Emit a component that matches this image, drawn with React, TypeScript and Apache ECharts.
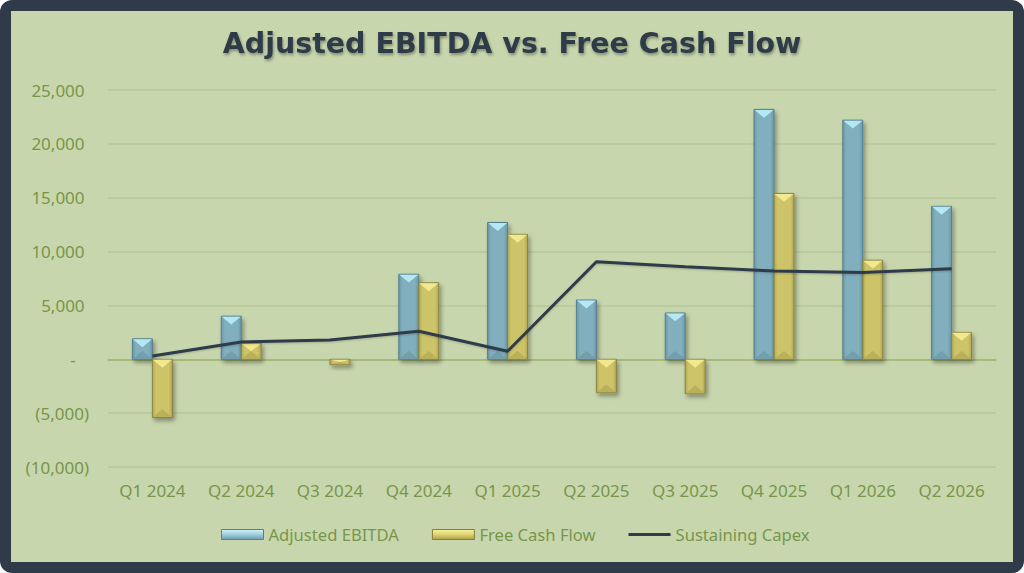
import React, { useEffect, useRef } from "react";
import * as echarts from "echarts";

const categories = ["Q1 2024", "Q2 2024", "Q3 2024", "Q4 2024", "Q1 2025", "Q2 2025", "Q3 2025", "Q4 2025", "Q1 2026", "Q2 2026"];
const ebitda = [1900, 4000, 0, 7900, 12700, 5500, 4300, 23200, 22200, 14200];
const freeCashFlow = [-5400, 1500, -500, 7100, 11600, -3100, -3200, 15400, 9200, 2500];
const sustainingCapex = [300, 1600, 1800, 2600, 750, 9050, 8600, 8200, 8050, 8400];

const GREEN_TEXT = "#77964a";
const DARK = "#2f3b48";

type Palette = { body: string; edge: string; facet: string; bottom: string; border: string };

const bluePal: Palette = { body: "#82afbd", edge: "#6b97a6", facet: "#b3e8f5", bottom: "#739fad", border: "#557f8d" };
const goldPal: Palette = { body: "#cdc46b", edge: "#b1a851", facet: "#f2e98e", bottom: "#b9b05a", border: "#8a8340" };

function makeRender(side: number, pal: Palette) {
  return (params: any, api: any) => {
    const idx = api.value(0);
    const v = api.value(1);
    if (!v) return null;
    const base = api.coord([idx, 0]);
    const tip = api.coord([idx, v]);
    const catW = api.size([1, 0])[0];
    const w = catW * 0.225;
    const x = side < 0 ? base[0] - w : base[0];
    const y1 = Math.min(base[1], tip[1]);
    const y2 = Math.max(base[1], tip[1]);
    const h = y2 - y1;
    const d = Math.min(w * 0.42, h / 2);
    return {
      type: "group",
      children: [
        {
          type: "rect",
          shape: { x, y: y1, width: w, height: h },
          style: {
            fill: new echarts.graphic.LinearGradient(0, 0, 1, 0, [
              { offset: 0, color: pal.edge },
              { offset: 0.18, color: pal.body },
              { offset: 0.82, color: pal.body },
              { offset: 1, color: pal.edge },
            ]),
            stroke: pal.border,
            lineWidth: 1,
            shadowBlur: 4,
            shadowColor: "rgba(0,0,0,0.35)",
            shadowOffsetX: 2,
            shadowOffsetY: 3,
          },
        },
        {
          type: "polygon",
          shape: { points: [[x + 0.5, y1 + 0.5], [x + w - 0.5, y1 + 0.5], [x + w / 2, y1 + d]] },
          style: { fill: pal.facet },
        },
        {
          type: "polygon",
          shape: { points: [[x + 0.5, y2 - 0.5], [x + w - 0.5, y2 - 0.5], [x + w / 2, y2 - d]] },
          style: { fill: pal.bottom },
        },
      ],
    };
  };
}

function fmt(v: number): string {
  if (v === 0) return "-   ";
  if (v < 0) return "(" + Math.abs(v).toLocaleString("en-US") + ")";
  return v.toLocaleString("en-US") + " ";
}

export default function App() {
  const ref = useRef<HTMLDivElement>(null);
  useEffect(() => {
    if (!ref.current) return;
    const chart = echarts.init(ref.current, null, { renderer: "svg" });
    chart.setOption({
      animation: false,
      backgroundColor: "transparent",
      title: {
        text: "Adjusted EBITDA vs. Free Cash Flow",
        left: "center",
        top: 26,
        padding: 0,
        textStyle: {
          fontFamily: "DejaVu Sans",
          fontWeight: "bold",
          fontSize: 28.5,
          lineHeight: 34,
          color: DARK,
          textShadowColor: "rgba(0,0,0,0.35)",
          textShadowBlur: 3,
          textShadowOffsetX: 1,
          textShadowOffsetY: 2,
        },
      },
      grid: { left: 108, right: 28, top: 90, bottom: 106, containLabel: false },
      legend: {
        left: 221,
        top: 526,
        padding: 0,
        itemWidth: 42,
        itemHeight: 10,
        itemGap: 33,
        textStyle: { color: GREEN_TEXT, fontFamily: "Noto Sans", fontSize: 16.6 },
        data: [
          {
            name: "Adjusted EBITDA",
            icon: "rect",
            itemStyle: {
              color: new echarts.graphic.LinearGradient(0, 0, 0, 1, [
                { offset: 0, color: "#d2f4fc" },
                { offset: 0.5, color: "#9fcfdd" },
                { offset: 1, color: "#6e9bab" },
              ]),
              borderColor: "#5a7f8d",
              borderWidth: 1,
            },
          },
          {
            name: "Free Cash Flow",
            icon: "rect",
            itemStyle: {
              color: new echarts.graphic.LinearGradient(0, 0, 0, 1, [
                { offset: 0, color: "#fbf29a" },
                { offset: 0.5, color: "#ddd372" },
                { offset: 1, color: "#aaa24c" },
              ]),
              borderColor: "#857e3c",
              borderWidth: 1,
            },
          },
          { name: "Sustaining Capex", icon: "path://M0,0H45V3H0Z", itemStyle: { color: DARK } },
        ],
      },
      xAxis: {
        type: "category",
        data: categories,
        axisLine: { show: true, onZero: true, lineStyle: { color: "#9db56c", width: 1.5 } },
        axisTick: { show: false },
        axisLabel: {
          color: GREEN_TEXT,
          fontFamily: "Noto Sans",
          fontSize: 17,
          margin: 15,
          interval: 0,
        },
        position: "bottom",
      },
      yAxis: {
        type: "value",
        min: -10000,
        max: 25000,
        interval: 5000,
        axisLine: { show: false },
        axisTick: { show: false },
        splitLine: { lineStyle: { color: "#b6c89a", width: 1.5 } },
        axisLabel: {
          color: GREEN_TEXT,
          fontFamily: "Noto Sans",
          fontSize: 17,
          margin: 19,
          formatter: fmt,
        },
      },
      series: [
        {
          name: "Adjusted EBITDA",
          type: "custom",
          renderItem: makeRender(-1, bluePal),
          encode: { x: 0, y: 1 },
          itemStyle: { color: "#8fc0cf" },
          data: ebitda.map((v, i) => [i, v]),
          z: 2,
        },
        {
          name: "Free Cash Flow",
          type: "custom",
          renderItem: makeRender(1, goldPal),
          encode: { x: 0, y: 1 },
          itemStyle: { color: "#d8cf72" },
          data: freeCashFlow.map((v, i) => [i, v]),
          z: 2,
        },
        {
          name: "Sustaining Capex",
          type: "line",
          data: sustainingCapex,
          symbol: "none",
          showSymbol: false,
          lineStyle: { color: DARK, width: 3, shadowColor: "rgba(0,0,0,0.2)", shadowBlur: 2, shadowOffsetY: 1 },
          itemStyle: { color: DARK },
          z: 5,
        },
      ],
    });
    return () => chart.dispose();
  }, []);

  return (
    <div style={{ position: "absolute", left: 0, top: 0, width: 1024, height: 573, background: "#ffffff" }}>
      <div
        style={{
          position: "absolute",
          left: 0,
          top: 0,
          width: 1024,
          height: 573,
          background: DARK,
          borderRadius: 12,
        }}
      />
      <div style={{ position: "absolute", left: 11, top: 11, width: 1002, height: 551, background: "#c8d6ad" }} />
      <div ref={ref} style={{ position: "absolute", left: 0, top: 0, width: 1024, height: 573 }} />
    </div>
  );
}
